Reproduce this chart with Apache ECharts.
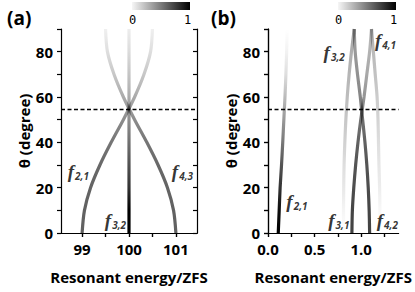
<!DOCTYPE html>
<html><head><meta charset="utf-8">
<script src="https://cdn.jsdelivr.net/npm/echarts@6/dist/echarts.min.js"></script>
<style>html,body{margin:0;padding:0;background:#fff}#c{width:415px;height:292px}</style>
</head><body><div id="c"></div>
<script>
// ---- data ----
const THETA = [0, 10, 20, 30, 40, 50, 60, 70, 80, 90];
const MAGIC_ANGLE = 54.7;
const Y_TICKS = [0, 10, 20, 30, 40, 50, 60, 70, 80, 90];
const Y_LABELS = [0, 20, 40, 60, 80];
// panel (a)
const A_X_TICKS = [99, 99.5, 100, 100.5, 101];
const A_X_LABELS = [99, 100, 101];
const A_F21_X = [99.0, 99.05, 99.18, 99.38, 99.62, 99.88, 100.12, 100.32, 100.46, 100.5];
const A_F43_X = [101.0, 100.95, 100.82, 100.62, 100.38, 100.12, 99.88, 99.68, 99.54, 99.5];
const A_F32_X = [100, 100, 100, 100, 100, 100, 100, 100, 100, 100];
const A_F21_I = [0.62, 0.62, 0.61, 0.59, 0.54, 0.45, 0.33, 0.22, 0.13, 0.06];
const A_F43_I = [0.62, 0.62, 0.61, 0.59, 0.54, 0.45, 0.33, 0.22, 0.13, 0.06];
const A_F32_I = [1.0, 1.0, 0.8, 0.68, 0.56, 0.44, 0.33, 0.23, 0.14, 0.07];
// panel (b)
const B_X_TICKS = [0, 0.25, 0.5, 0.75, 1.0, 1.25];
const B_X_LABELS = [0, 0.5, 1.0];
const B_F21_X = [0.11, 0.12, 0.13, 0.145, 0.158, 0.17, 0.182, 0.192, 0.2, 0.205];
const B_F32_X = [0.81, 0.81, 0.812, 0.816, 0.824, 0.835, 0.85, 0.87, 0.895, 0.925];
const B_F31_X = [0.90, 0.905, 0.92, 0.94, 0.965, 0.995, 1.03, 1.06, 1.09, 1.11];
const B_F42_X = [1.09, 1.085, 1.075, 1.06, 1.04, 1.015, 0.99, 0.96, 0.935, 0.925];
const B_F41_X = [1.20, 1.20, 1.197, 1.19, 1.185, 1.18, 1.17, 1.15, 1.13, 1.11];
const B_F21_I = [1.0, 0.95, 0.8, 0.67, 0.53, 0.4, 0.27, 0.13, 0.05, 0.0];
const B_F32_I = [0.0, 0.04, 0.09, 0.13, 0.18, 0.22, 0.26, 0.29, 0.32, 0.35];
const B_F31_I = [0.74, 0.73, 0.7, 0.67, 0.62, 0.55, 0.42, 0.34, 0.3, 0.27];
const B_F42_I = [0.74, 0.73, 0.7, 0.67, 0.62, 0.56, 0.48, 0.43, 0.4, 0.4];
const B_F41_I = [0.0, 0.03, 0.07, 0.1, 0.13, 0.17, 0.2, 0.24, 0.27, 0.3];
// curve labels: [x, theta, subscript]
const A_NOTES = [[98.92, 27.3, '2,1'], [101.14, 27.3, '4,3'], [99.71, 5.3, '3,2']];
const B_NOTES = [[0.31, 13.7, '2,1'], [0.76, 5.7, '3,1'], [1.28, 5.7, '4,2'], [0.71, 79.8, '3,2'], [1.26, 85.1, '4,1']];

// ---- chart ----
const FONT = 'Open Sans';
const chart = echarts.init(document.getElementById('c'), null, { renderer: 'svg' });
const pts = xs => xs.map((x, i) => [x, THETA[i]]);
const gray = v => 'rgba(0,0,0,' + v + ')';
const AXC = { color: '#000', width: 1.2 };
const LBL = { fontFamily: FONT, fontWeight: 'bold', fontSize: 15, color: '#000' };

function xAxes(grid, min, max, ticks, labels, fmt) {
  return [
    { gridIndex: grid, type: 'value', position: 'bottom', min, max,
      name: 'Resonant energy/ZFS', nameLocation: 'middle', nameGap: 36, nameTextStyle: LBL,
      axisLine: { lineStyle: AXC }, splitLine: { show: false },
      axisTick: { length: 4, customValues: ticks, lineStyle: AXC },
      axisLabel: Object.assign({ customValues: labels, margin: 8, formatter: fmt }, LBL) },
    { gridIndex: grid, type: 'value', position: 'top', min, max,
      axisLine: { lineStyle: AXC }, splitLine: { show: false },
      axisTick: { inside: true, length: 4, customValues: ticks, lineStyle: AXC },
      axisLabel: { show: false } }
  ];
}
function yAxes(grid) {
  return [
    { gridIndex: grid, type: 'value', position: 'left', min: 0, max: 90,
      name: 'θ (degree)', nameLocation: 'middle', nameGap: 30, nameTextStyle: LBL,
      axisLine: { lineStyle: AXC }, splitLine: { show: false },
      axisTick: { length: 4, customValues: Y_TICKS, lineStyle: AXC },
      axisLabel: Object.assign({ customValues: Y_LABELS, margin: 8 }, LBL) },
    { gridIndex: grid, type: 'value', position: 'right', min: 0, max: 90,
      axisLine: { lineStyle: AXC }, splitLine: { show: false },
      axisTick: { inside: true, length: 4, customValues: Y_TICKS, lineStyle: AXC },
      axisLabel: { show: false } }
  ];
}

const curves = [
  { p: 0, x: A_F21_X, i: A_F21_I }, { p: 0, x: A_F43_X, i: A_F43_I }, { p: 0, x: A_F32_X, i: A_F32_I },
  { p: 1, x: B_F21_X, i: B_F21_I }, { p: 1, x: B_F32_X, i: B_F32_I }, { p: 1, x: B_F31_X, i: B_F31_I },
  { p: 1, x: B_F42_X, i: B_F42_I }, { p: 1, x: B_F41_X, i: B_F41_I }
];
const series = curves.map(c => ({
  type: 'line', xAxisIndex: c.p * 2, yAxisIndex: c.p * 2, data: pts(c.x),
  showSymbol: false, smooth: 0.3, lineStyle: { width: 3.2 }, silent: true, z: 2
}));
const visualMap = curves.map((c, k) => ({
  type: 'continuous', show: false, seriesIndex: k, dimension: 1, min: 0, max: 90,
  inRange: { color: c.i.map(gray) }
}));
[0, 1].forEach(p => series.push({
  type: 'line', xAxisIndex: p * 2, yAxisIndex: p * 2, data: [], z: 6, silent: true,
  markLine: { symbol: ['none', 'none'], silent: true, label: { show: false },
    lineStyle: { color: '#000', type: [4, 2.5], width: 1.4 }, data: [{ yAxis: MAGIC_ANGLE }] }
}));
const noteLabel = {
  show: true, position: 'inside', formatter: p => '{f|f}{s|' + p.data[2] + '}',
  rich: {
    f: { fontFamily: 'Liberation Serif', fontStyle: 'italic', fontWeight: 'bold', fontSize: 19, color: '#000', lineHeight: 22 },
    s: { fontFamily: FONT, fontStyle: 'italic', fontWeight: 'bold', fontSize: 10, color: '#000', lineHeight: 22, padding: [9, 0, 0, 1] }
  }
};
[[0, A_NOTES], [1, B_NOTES]].forEach(([p, notes]) => series.push({
  type: 'scatter', xAxisIndex: p * 2, yAxisIndex: p * 2, data: notes, symbolSize: 0,
  silent: true, z: 8, label: noteLabel
}));

function colorbar(x) {
  return [
    { type: 'rect', left: x, top: 2, shape: { width: 58, height: 8 },
      style: { fill: new echarts.graphic.LinearGradient(0, 0, 1, 0, [{ offset: 0, color: '#f6f6f6' }, { offset: 1, color: '#000' }]) } },
    { type: 'text', left: x - 3, top: 14, style: { text: '0', font: '12px "DejaVu Sans Mono"', fill: '#000' } },
    { type: 'text', left: x + 52, top: 14, style: { text: '1', font: '12px "DejaVu Sans Mono"', fill: '#000' } }
  ];
}
const graphic = [
  { type: 'text', left: 7, top: 8, style: { text: '(a)', font: 'bold 19px "Open Sans"', fill: '#000' } },
  { type: 'text', left: 211, top: 8, style: { text: '(b)', font: 'bold 19px "Open Sans"', fill: '#000' } }
].concat(colorbar(132), colorbar(338));

chart.setOption({
  animation: false,
  backgroundColor: '#fff',
  grid: [
    { left: 61, top: 29, width: 136, height: 204 },
    { left: 268, top: 29, width: 132, height: 204 }
  ],
  xAxis: xAxes(0, 98.55, 101.45, A_X_TICKS, A_X_LABELS, v => String(v)).concat(
         xAxes(1, 0, 1.4, B_X_TICKS, B_X_LABELS, v => Number(v).toFixed(1))),
  yAxis: yAxes(0).concat(yAxes(1)),
  visualMap,
  series,
  graphic
});
</script></body></html>
